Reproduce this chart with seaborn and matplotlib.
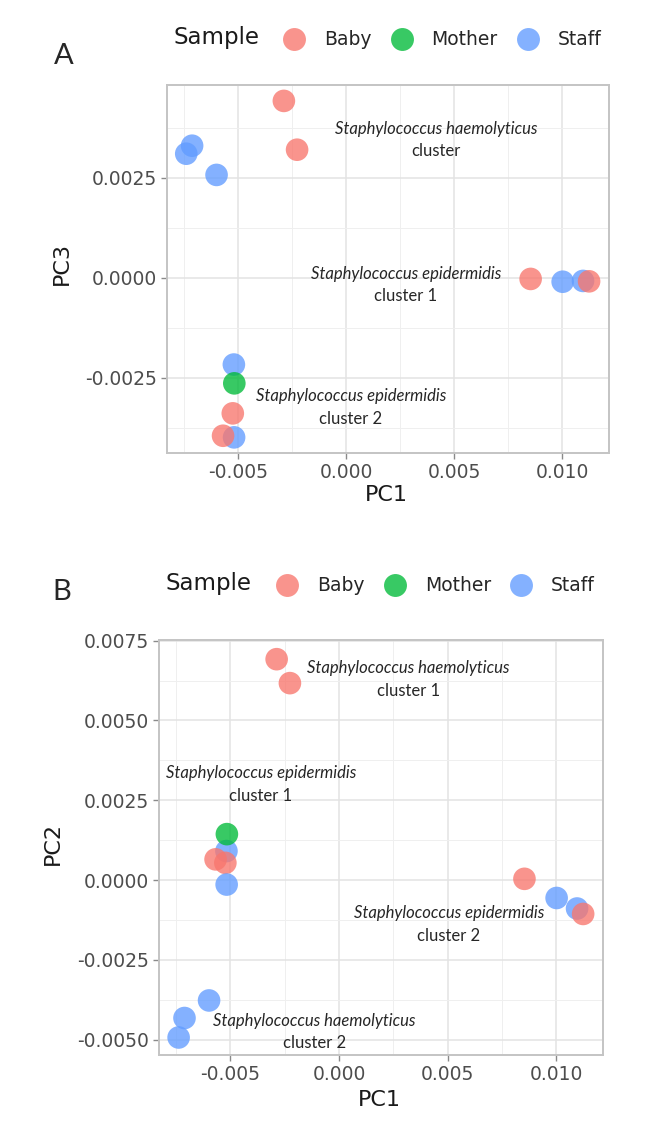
import matplotlib
matplotlib.use("Agg")
import matplotlib.pyplot as plt
import matplotlib.ticker as mticker
import pandas as pd
import seaborn as sns

# PCA scores (same 14 isolates in both panels)
sample = ["Baby", "Baby", "Staff", "Staff", "Staff", "Baby", "Staff",
          "Staff", "Baby", "Staff", "Mother", "Baby", "Staff", "Baby"]
pc1 = [-0.00287, -0.00226, -0.00711, -0.00738, -0.00598, 0.00853, 0.01001,
       0.01095, 0.01123, -0.00518, -0.00516, -0.00523, -0.00517, -0.00568]
pc2 = [0.00692, 0.00617, -0.00432, -0.00493, -0.00377, 0.00004, -0.00056,
       -0.00089, -0.00106, 0.00091, 0.00144, 0.00054, -0.00014, 0.00065]
pc3 = [0.00442, 0.00320, 0.00330, 0.00310, 0.00257, -0.00003, -0.00010,
       -0.00008, -0.00009, -0.00217, -0.00264, -0.00339, -0.00399, -0.00395]

groups = ["Baby", "Mother", "Staff"]
colors = ["#F8766D", "#00BA38", "#619CFF"]

df = pd.DataFrame({"Sample": sample, "PC1": pc1, "PC2": pc2, "PC3": pc3})

sns.set_style("white")
plt.rcParams["font.family"] = ["DejaVu Sans"]
plt.rcParams["axes.unicode_minus"] = False

fig = plt.figure(figsize=(6.48, 11.29), dpi=100)
axA = fig.add_axes([0.2577, 0.5988, 0.6821, 0.3260])
axB = fig.add_axes([0.2458, 0.0655, 0.6843, 0.3676])

note_font = ["Lato", "DejaVu Sans"]


def style_axis(ax, xlim, ylim, yticks, yminor):
    ax.set_xlim(*xlim)
    ax.set_ylim(*ylim)
    ax.set_xticks([-0.005, 0.0, 0.005, 0.010])
    ax.set_xticks([-0.0075, -0.0025, 0.0025, 0.0075], minor=True)
    ax.set_yticks(yticks)
    ax.set_yticks(yminor, minor=True)
    ax.xaxis.set_major_formatter(mticker.FormatStrFormatter("%.3f"))
    ax.yaxis.set_major_formatter(mticker.FormatStrFormatter("%.4f"))
    ax.grid(True, which="major", color="#E3E3E3", lw=1.1)
    ax.grid(True, which="minor", color="#EFEFEF", lw=0.7)
    ax.set_axisbelow(True)
    ax.tick_params(which="major", length=4, width=1, color="#8A8A8A",
                   labelsize=13.5, labelcolor="#4D4D4D", left=True, bottom=True)
    ax.tick_params(which="minor", length=0)
    for sp in ax.spines.values():
        sp.set_color("#C4C4C4")
        sp.set_linewidth(1.4)


def draw_panel(ax, ycol, letter, letter_xy, legend_x, sample_x, legend_y, notes):
    sns.scatterplot(data=df, x="PC1", y=ycol, hue="Sample", hue_order=groups,
                    palette=colors, s=265, alpha=0.78, linewidth=0, ax=ax)
    handles, labels = ax.get_legend_handles_labels()
    ax.get_legend().remove()
    for h in handles:
        h.set_markersize(16.5)
        h.set_alpha(0.78)
        h.set_markeredgewidth(0)
    fig.legend(handles, labels, loc="center left", ncol=3, frameon=False,
               bbox_to_anchor=(legend_x, legend_y), fontsize=13.5,
               borderpad=0, borderaxespad=0, handletextpad=0.95,
               columnspacing=0.95, handlelength=1.3)
    fig.text(sample_x, legend_y + 0.002, "Sample", fontsize=16.5, va="center",
             ha="left", color="#1A1A1A")
    fig.text(letter_xy[0], letter_xy[1], letter, fontsize=21, va="center",
             ha="center", family=note_font)
    ax.set_xlabel("PC1", fontsize=16, color="#1A1A1A")
    ax.set_ylabel(ycol, fontsize=16, color="#1A1A1A")
    for x, y, species, clus in notes:
        ax.annotate(species, (x, y), xytext=(0, 8.2), textcoords="offset points",
                    fontsize=12, style="italic", ha="center", va="center",
                    family=note_font)
        ax.annotate(clus, (x, y), xytext=(0, -8.2), textcoords="offset points",
                    fontsize=12, ha="center", va="center", family=note_font)


draw_panel(axA, "PC3", "A", (0.098, 0.950), 0.4349, 0.267, 0.9646, [
    (0.00415, 0.00344, "Staphylococcus haemolyticus", "cluster"),
    (0.00277, -0.00018, "Staphylococcus epidermidis", "cluster 1"),
    (0.00022, -0.00324, "Staphylococcus epidermidis", "cluster 2"),
])
style_axis(axA, (-0.00827, 0.01215), (-0.00438, 0.00482),
           [-0.0025, 0.0, 0.0025], [-0.00375, -0.00125, 0.00125, 0.00375])
axA.xaxis.set_label_coords(0.497, -0.087)
axA.yaxis.set_label_coords(-0.215, 0.515)

draw_panel(axB, "PC2", "B", (0.0957, 0.4759), 0.4245, 0.256, 0.4810, [
    (0.00319, 0.00629, "Staphylococcus haemolyticus", "cluster 1"),
    (-0.00359, 0.00300, "Staphylococcus epidermidis", "cluster 1"),
    (0.00506, -0.00140, "Staphylococcus epidermidis", "cluster 2"),
    (-0.00113, -0.00476, "Staphylococcus haemolyticus", "cluster 2"),
])
style_axis(axB, (-0.00827, 0.01213), (-0.00548, 0.00752),
           [-0.005, -0.0025, 0.0, 0.0025, 0.005, 0.0075],
           [-0.00375, -0.00125, 0.00125, 0.00375, 0.00625])
axB.xaxis.set_label_coords(0.497, -0.084)
axB.yaxis.set_label_coords(-0.217, 0.51)

fig.savefig("out.png", dpi=100)
